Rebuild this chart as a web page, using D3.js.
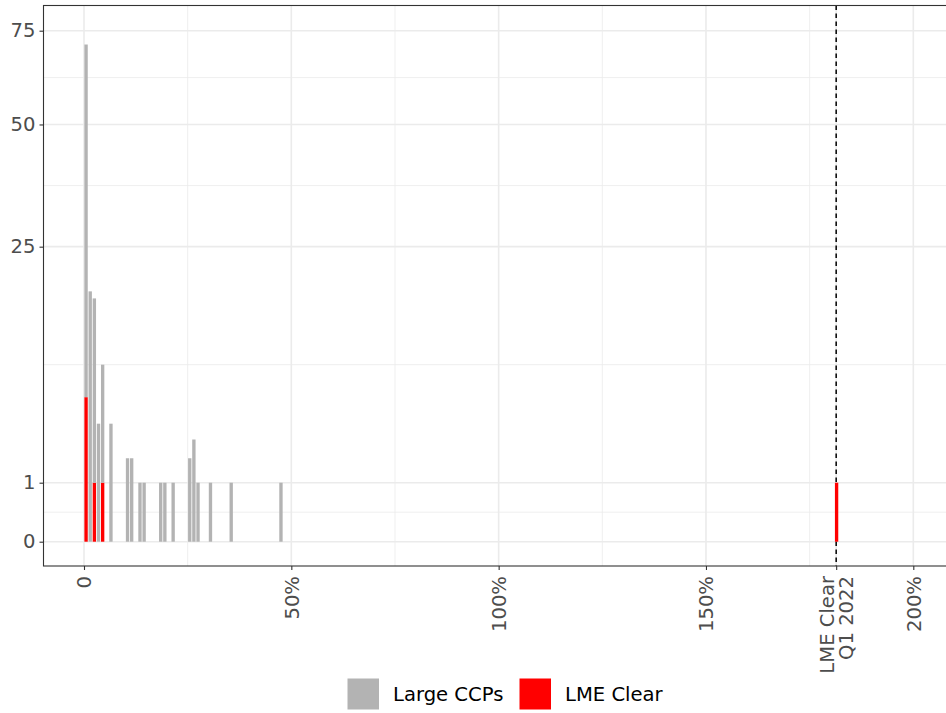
<!DOCTYPE html>
<html lang="en">
    <head>
        <meta charset="utf-8" />
        <title>LME Clear vs Large CCPs</title>
        <script type="text/javascript" src="https://cdn.jsdelivr.net/npm/d3@7/dist/d3.min.js"></script>
        <style type="text/css">
            body {
                margin: 0;
                background: white;
            }
            svg {
                display: block;
                font-family: "DejaVu Sans", sans-serif;
            }
        </style>
    </head>
    <body>
        <script type="text/javascript">
            // histogram bins (left edge, in %), 1% wide
            var binStart = [0, 1, 2, 3, 4, 6, 10, 11, 13, 14, 18, 19, 21, 25, 26, 27, 30, 35, 47, 181];
            var largeCCPs = [65, 18, 16, 4, 8, 4, 2, 2, 1, 1, 1, 1, 1, 2, 3, 1, 1, 1, 1, 0];
            var lmeClear = [6, 0, 1, 0, 1, 0, 0, 0, 0, 0, 0, 0, 0, 0, 0, 0, 0, 0, 0, 1];
            var binWidth = 1;

            var lmeQ1 = 181.4;
            var xTicks = [0, 50, 100, 150, lmeQ1, 200];
            var xTickLabels = ["0", "50%", "100%", "150%", "LME Clear\nQ1 2022", "200%"];
            var xMinor = [25, 75, 125, 175];
            var yTicks = [0, 1, 25, 50, 75];

            var seriesNames = ["Large CCPs", "LME Clear"];
            var seriesColors = ["#B3B3B3", "#FF0000"];

            var w = 946;
            var h = 713;
            var panel = { left: 43.5, top: 5.5, right: 947, bottom: 566 };
            var fontSize = "19.6px";

            var xScale = d3.scaleLinear().domain([0, 200]).range([84, 913.3]);
            var yScale = d3.scaleSqrt().domain([0, 75]).range([541.7, 30.7]);

            var table = binStart.map(function(b, i) {
                return { bin: b, large: largeCCPs[i], lme: lmeClear[i] };
            });
            var stacked = d3.stack().keys(["lme", "large"])(table);

            var svg = d3
                .select("body")
                .append("svg")
                .attr("width", w)
                .attr("height", h);

            // minor y grid: midpoints in sqrt space
            var yMinor = [];
            for (var i = 1; i < yTicks.length; i++) {
                var m = (Math.sqrt(yTicks[i - 1]) + Math.sqrt(yTicks[i])) / 2;
                yMinor.push(m * m);
            }

            var grid = svg.append("g");
            grid.selectAll("line.ymin")
                .data(yMinor)
                .enter()
                .append("line")
                .attr("x1", panel.left)
                .attr("x2", panel.right)
                .attr("y1", function(d) { return yScale(d); })
                .attr("y2", function(d) { return yScale(d); })
                .attr("stroke", "#EBEBEB")
                .attr("stroke-width", 0.8);
            grid.selectAll("line.xmin")
                .data(xMinor)
                .enter()
                .append("line")
                .attr("x1", function(d) { return xScale(d); })
                .attr("x2", function(d) { return xScale(d); })
                .attr("y1", panel.top)
                .attr("y2", panel.bottom)
                .attr("stroke", "#EBEBEB")
                .attr("stroke-width", 0.8);
            grid.selectAll("line.ymaj")
                .data(yTicks)
                .enter()
                .append("line")
                .attr("x1", panel.left)
                .attr("x2", panel.right)
                .attr("y1", function(d) { return yScale(d); })
                .attr("y2", function(d) { return yScale(d); })
                .attr("stroke", "#EBEBEB")
                .attr("stroke-width", 1.6);
            grid.selectAll("line.xmaj")
                .data(xTicks)
                .enter()
                .append("line")
                .attr("x1", function(d) { return xScale(d); })
                .attr("x2", function(d) { return xScale(d); })
                .attr("y1", panel.top)
                .attr("y2", panel.bottom)
                .attr("stroke", "#EBEBEB")
                .attr("stroke-width", 1.6);

            // dashed reference line (behind the bars)
            svg.append("line")
                .attr("x1", xScale(lmeQ1))
                .attr("x2", xScale(lmeQ1))
                .attr("y1", panel.top)
                .attr("y2", panel.bottom)
                .attr("stroke", "black")
                .attr("stroke-width", 1.5)
                .attr("stroke-dasharray", "4.5,3.5");

            // stacked histogram bars
            svg.append("g")
                .selectAll("g")
                .data(stacked)
                .enter()
                .append("g")
                .attr("fill", function(d) {
                    return d.key == "lme" ? seriesColors[1] : seriesColors[0];
                })
                .selectAll("rect")
                .data(function(d) {
                    return d.filter(function(s) { return s[1] > s[0]; });
                })
                .enter()
                .append("rect")
                .attr("x", function(d) { return xScale(d.data.bin) + 0.4; })
                .attr("width", function(d) {
                    return xScale(d.data.bin + binWidth) - xScale(d.data.bin) - 0.8;
                })
                .attr("y", function(d) { return yScale(d[1]); })
                .attr("height", function(d) { return yScale(d[0]) - yScale(d[1]); });

            // panel border
            svg.append("rect")
                .attr("x", panel.left)
                .attr("y", panel.top)
                .attr("width", panel.right - panel.left)
                .attr("height", panel.bottom - panel.top)
                .attr("fill", "none")
                .attr("stroke", "#333333")
                .attr("stroke-width", 1.1);

            // y axis
            var yAxis = d3.axisLeft(yScale).tickValues(yTicks).tickSize(4).tickPadding(4);
            var gy = svg.append("g")
                .attr("transform", "translate(" + panel.left + ",0)")
                .call(yAxis);
            gy.select(".domain").remove();
            gy.selectAll(".tick line").attr("stroke", "#333333").attr("stroke-width", 1.1);
            gy.selectAll(".tick text")
                .attr("fill", "#4D4D4D")
                .attr("font-size", fontSize)
                .attr("font-family", "DejaVu Sans");

            // x axis
            var xAxis = d3.axisBottom(xScale).tickValues(xTicks).tickSize(4).tickFormat("");
            var gx = svg.append("g")
                .attr("transform", "translate(0," + panel.bottom + ")")
                .call(xAxis);
            gx.select(".domain").remove();
            gx.selectAll(".tick line").attr("stroke", "#333333").attr("stroke-width", 1.1);
            gx.selectAll(".tick text").remove();
            gx.selectAll(".tick")
                .append("text")
                .attr("transform", "translate(0,10) rotate(-90)")
                .attr("text-anchor", "end")
                .attr("fill", "#4D4D4D")
                .attr("font-size", fontSize)
                .attr("font-family", "DejaVu Sans")
                .each(function(d, i) {
                    var lines = xTickLabels[i].split("\n");
                    var t = d3.select(this);
                    var lh = 19.5;
                    lines.forEach(function(s, j) {
                        t.append("tspan")
                            .attr("x", 0)
                            .attr("y", (j - (lines.length - 1) / 2) * lh)
                            .attr("dy", "0.35em")
                            .text(s);
                    });
                });

            // legend
            var legend = svg.append("g").attr("transform", "translate(347.5,678.5)");
            var legendX = [0, 172];
            seriesNames.forEach(function(name, i) {
                var item = legend.append("g").attr("transform", "translate(" + legendX[i] + ",0)");
                item.append("rect")
                    .attr("width", 31.5)
                    .attr("height", 31)
                    .attr("fill", seriesColors[i]);
                item.append("text")
                    .attr("x", 45.5)
                    .attr("y", 15.5)
                    .attr("dy", "0.35em")
                    .attr("font-size", fontSize)
                    .attr("font-family", "DejaVu Sans")
                    .attr("fill", "black")
                    .text(name);
            });
        </script>
    </body>
</html>
